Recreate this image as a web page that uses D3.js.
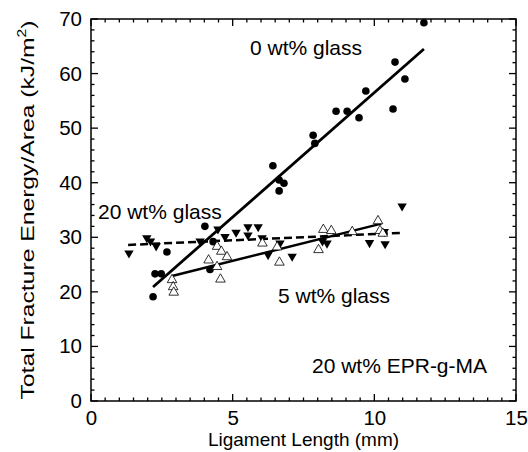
<!DOCTYPE html>
<html><head><meta charset="utf-8">
<script src="https://cdn.jsdelivr.net/npm/d3@7"></script>
<style>body{margin:0;background:#fff}svg{display:block}text{font-family:"Liberation Sans",Arial,sans-serif;fill:#000}</style>
</head><body><svg id="c" width="528" height="452"></svg>
<script>
// 0 wt% glass (filled circles)
const glass0 = [[2.19,19.1],[2.26,23.3],[2.48,23.3],[2.68,27.3],[4.02,32.0],[4.31,29.2],[4.2,24.1],[6.42,43.1],[6.64,40.5],[6.81,39.9],[6.64,38.5],[7.84,48.7],[7.9,47.2],[8.65,53.1],[9.04,53.1],[9.46,51.9],[9.7,56.8],[10.66,53.5],[10.73,62.1],[11.08,59.0],[11.75,69.3]];
// 20 wt% glass (filled down triangles)
const glass20 = [[1.34,27.1],[1.97,29.9],[2.1,29.3],[2.3,28.4],[3.85,29.3],[4.48,31.5],[4.73,30.1],[5.12,30.9],[5.54,31.9],[5.54,30.4],[5.9,31.9],[6.04,29.9],[6.25,26.8],[6.67,28.9],[7.1,26.5],[8.17,29.3],[8.33,28.9],[9.83,29.0],[10.35,31.0],[10.38,28.8],[10.98,35.7]];
// 5 wt% glass (open up triangles)
const glass5 = [[2.86,22.2],[2.9,20.9],[2.92,19.9],[4.15,25.8],[4.45,28.3],[4.6,27.4],[4.8,26.4],[4.45,24.6],[4.57,22.3],[6.05,28.9],[6.57,28.2],[6.65,25.4],[8.03,27.7],[8.2,31.4],[8.48,31.2],[9.22,31.0],[10.13,33.0],[10.2,31.2],[10.3,30.7]];
// fit lines
const fit0 = [[2.19,20.9],[11.75,64.5]];
const fit20 = [[1.31,28.6],[10.9,30.8]];
const fit5 = [[2.86,22.9],[10.25,32.5]];
const xTicks = [0,5,10,15];
const yTicks = [0,10,20,30,40,50,60,70];

const svg = d3.select("#c");
const L=91,R=516,T=19,B=401;
const x = d3.scaleLinear().domain([0,15]).range([L,R]);
const y = d3.scaleLinear().domain([0,70]).range([B,T]);
const g = svg.append("g");

const xMinor = d3.range(0,15.01,0.5), yMinor = d3.range(0,70.01,2);
const tk = g.append("g").attr("stroke","#000").attr("stroke-width",1.3);
xMinor.forEach(v=>{const len = xTicks.includes(v)?7:3.5;
  tk.append("line").attr("x1",x(v)).attr("x2",x(v)).attr("y1",B).attr("y2",B-len);
  tk.append("line").attr("x1",x(v)).attr("x2",x(v)).attr("y1",T).attr("y2",T+len);});
yMinor.forEach(v=>{const len = yTicks.includes(v)?7:3.5;
  tk.append("line").attr("y1",y(v)).attr("y2",y(v)).attr("x1",L).attr("x2",L+len);
  tk.append("line").attr("y1",y(v)).attr("y2",y(v)).attr("x1",R).attr("x2",R-len);});
g.append("rect").attr("x",L).attr("y",T).attr("width",R-L).attr("height",B-T).attr("fill","none").attr("stroke","#000").attr("stroke-width",1.5);

const xa = g.append("g").attr("transform",`translate(0,${B})`).call(d3.axisBottom(x).tickValues(xTicks).tickSize(0).tickPadding(9));
const ya = g.append("g").attr("transform",`translate(${L},0)`).call(d3.axisLeft(y).tickValues(yTicks).tickSize(0).tickPadding(9));
[xa,ya].forEach(a=>{a.select(".domain").remove();a.selectAll("text").attr("font-size",20.5).attr("font-family","Liberation Sans, Arial, sans-serif").attr("fill","#000");});

svg.append("text").attr("x",(L+R)/2).attr("y",446).attr("text-anchor","middle").attr("font-size",19).text("Ligament Length (mm)");
const yl = svg.append("text").attr("transform",`translate(34,${(T+B)/2}) rotate(-90) scale(1.3,1)`).attr("text-anchor","middle").attr("font-size",19);
yl.append("tspan").text("Total Fracture Energy/Area (kJ/m");
yl.append("tspan").attr("font-size",12).attr("dy",-8).text("2");
yl.append("tspan").attr("dy",8).text(")");

const line = d3.line().x(d=>x(d[0])).y(d=>y(d[1]));
g.append("path").attr("d",line(fit0)).attr("stroke","#000").attr("stroke-width",2.8).attr("fill","none");
g.append("path").attr("d",line(fit5)).attr("stroke","#000").attr("stroke-width",2.5).attr("fill","none");
g.append("path").attr("d",line(fit20)).attr("stroke","#000").attr("stroke-width",2.5).attr("stroke-dasharray","8,4").attr("fill","none");

g.append("g").selectAll("circle").data(glass0).join("circle").attr("cx",d=>x(d[0])).attr("cy",d=>y(d[1])).attr("r",3.8).attr("fill","#000");
const triDown = d3.symbol().type(d3.symbolTriangle).size(38);
g.append("g").selectAll("path").data(glass20).join("path").attr("d",triDown).attr("transform",d=>`translate(${x(d[0])},${y(d[1])}) rotate(180)`).attr("fill","#000");
const triUp = d3.symbol().type(d3.symbolTriangle).size(40);
g.append("g").selectAll("path").data(glass5).join("path").attr("d",triUp).attr("transform",d=>`translate(${x(d[0])},${y(d[1])})`).attr("fill","#fff").attr("stroke","#000").attr("stroke-width",0.8);

const ann = [["0 wt% glass",250,55],["20 wt% glass",98,219],["5 wt% glass",278,303],["20 wt% EPR-g-MA",312,373]];
svg.selectAll("text.ann").data(ann).join("text").attr("class","ann").attr("x",d=>d[1]).attr("y",d=>d[2]).attr("font-size",21).text(d=>d[0]);
</script></body></html>
